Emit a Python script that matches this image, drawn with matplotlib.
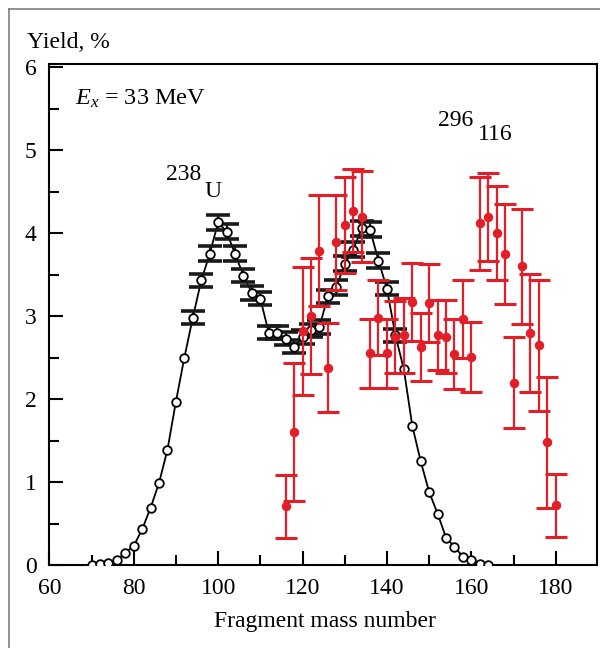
import matplotlib
matplotlib.use("Agg")
import matplotlib.pyplot as plt
from matplotlib.lines import Line2D
from matplotlib.ticker import MultipleLocator

plt.rcParams['font.family'] = ['Liberation Serif', 'DejaVu Serif']
plt.rcParams['mathtext.fontset'] = 'custom'
plt.rcParams['mathtext.rm'] = 'Liberation Serif'
plt.rcParams['mathtext.it'] = 'Liberation Serif:italic'

# ---- data: 238U fission fragments (open circles, line) ----
u_mass = [70, 72, 74, 76, 78, 80, 82, 84, 86, 88, 90, 92, 94, 96, 98, 100,
          102, 104, 106, 108, 110, 112, 114, 116, 118, 120, 122, 124, 126,
          128, 130, 132, 134, 136, 138, 140, 142, 144, 146, 148, 150, 152,
          154, 156, 158, 160, 162, 164]
u_yield = [0.00, 0.01, 0.03, 0.06, 0.15, 0.23, 0.43, 0.69, 0.99, 1.39, 1.97,
           2.50, 2.98, 3.43, 3.75, 4.13, 4.02, 3.75, 3.49, 3.28, 3.21, 2.80,
           2.80, 2.73, 2.63, 2.75, 2.83, 2.87, 3.24, 3.35, 3.63, 3.80, 4.06,
           4.04, 3.67, 3.33, 2.77, 2.36, 1.68, 1.25, 0.88, 0.62, 0.33, 0.22,
           0.10, 0.06, 0.01, 0.00]
# error bars shown only for masses 94..142
u_err_mass = [94, 96, 98, 100, 102, 104, 106, 108, 110, 112, 114, 116, 118,
              120, 122, 124, 126, 128, 130, 132, 134, 136, 138, 140, 142]
u_err = [0.08, 0.08, 0.09, 0.09, 0.09, 0.09, 0.08, 0.08, 0.08, 0.08, 0.08,
         0.08, 0.08, 0.08, 0.08, 0.08, 0.08, 0.09, 0.09, 0.09, 0.09, 0.09,
         0.09, 0.08, 0.08]

# ---- data: 296-116 fission fragments (red filled circles) ----
sh_mass = [116, 118, 120, 122, 124, 126, 128, 130, 132, 134, 136, 138, 140,
           142, 144, 146, 148, 150, 152, 154, 156, 158, 160, 162, 164, 166,
           168, 170, 172, 174, 176, 178, 180]
sh_yield = [0.71, 1.60, 2.82, 3.00, 3.79, 2.38, 3.89, 4.10, 4.27, 4.20, 2.55,
            2.98, 2.55, 2.75, 2.77, 3.17, 2.63, 3.16, 2.77, 2.75, 2.54, 2.96,
            2.51, 4.12, 4.19, 4.00, 3.75, 2.20, 3.60, 2.80, 2.65, 1.48, 0.72]
sh_err = [0.38, 0.83, 0.77, 0.70, 0.67, 0.54, 0.57, 0.58, 0.50, 0.55, 0.42,
          0.45, 0.42, 0.43, 0.45, 0.47, 0.41, 0.47, 0.42, 0.44, 0.42, 0.47,
          0.42, 0.56, 0.53, 0.57, 0.60, 0.55, 0.69, 0.71, 0.79, 0.79, 0.38]

x_ticks = [60, 80, 100, 120, 140, 160, 180]
y_ticks = [0, 1, 2, 3, 4, 5, 6]

RED = '#e31e26'
FS = 17

fig = plt.figure(figsize=(6, 6.48), dpi=100)
W, H = 600, 648
ax = fig.add_axes([49.3 / W, 1 - 565 / H, (596.7 - 49.3) / W, (565 - 64) / H])

# outer frame (left and top edges visible)
fig.add_artist(Line2D([9 / W, 9 / W], [0, 1 - 9 / H], transform=fig.transFigure,
                      color='#7f7f7f', lw=1.2))
fig.add_artist(Line2D([9 / W, 1], [1 - 9 / H, 1 - 9 / H], transform=fig.transFigure,
                      color='#7f7f7f', lw=1.2))

# black curve with open circles
ax.plot(u_mass, u_yield, '-', color='black', lw=1.3, zorder=3)
u_err_y = [u_yield[u_mass.index(m)] for m in u_err_mass]
ax.errorbar(u_err_mass, u_err_y, yerr=u_err, fmt='none', ecolor='#1a1a1a',
            elinewidth=1.6, capsize=8.5, capthick=2.6, zorder=3)
ax.plot(u_mass, u_yield, 'o', ms=6.2, mfc='white', mec='black', mew=1.3,
        zorder=5)

# red points
ax.errorbar(sh_mass, sh_yield, yerr=sh_err, fmt='o', color=RED, ms=5.8,
            ecolor=RED, elinewidth=1.6, capsize=8, capthick=2.2, zorder=6)

ax.set_xlim(60, 189.7)
ax.set_ylim(0, 6.04)
ax.set_xticks(x_ticks)
ax.set_yticks(y_ticks)
ax.xaxis.set_minor_locator(MultipleLocator(10))
ax.yaxis.set_minor_locator(MultipleLocator(0.5))
ax.tick_params(which='both', direction='in', width=1.5, labelsize=FS,
               top=False, right=False)
ax.tick_params(which='major', length=10, pad=9)
ax.tick_params(which='minor', length=7.5)
for s in ax.spines.values():
    s.set_linewidth(1.5)

ax.text(0.047, 0.918, r'$E_x$ = 33 MeV', transform=ax.transAxes,
        fontsize=17.5, va='baseline', ha='left')
ax.text(0.213, 0.768, '238', transform=ax.transAxes, fontsize=FS,
        va='baseline', ha='left')
ax.text(0.284, 0.735, 'U', transform=ax.transAxes, fontsize=FS,
        va='baseline', ha='left')
ax.text(0.710, 0.876, '296', transform=ax.transAxes, fontsize=FS,
        va='baseline', ha='left')
ax.text(0.783, 0.848, '116', transform=ax.transAxes, fontsize=FS,
        va='baseline', ha='left')

fig.text(27 / W, 1 - 48 / H, 'Yield, %', fontsize=FS, ha='left', va='baseline')
fig.text(325 / W, 1 - 627 / H, 'Fragment mass number', fontsize=FS,
         ha='center', va='baseline')

fig.savefig('out.png', dpi=100)
